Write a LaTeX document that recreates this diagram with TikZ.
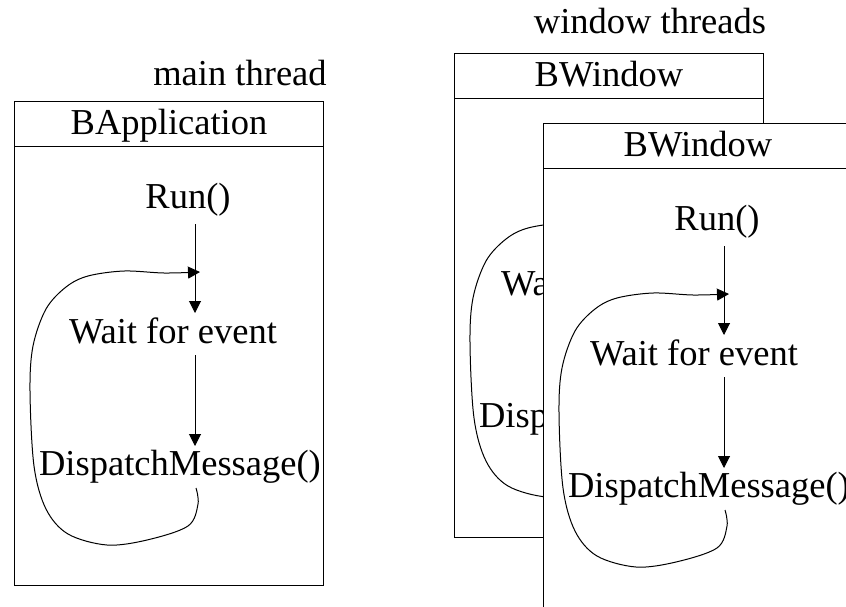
\documentclass[tikz,border=0pt]{standalone}
\usepackage{fontspec}
\setmainfont{Liberation Serif}
\usetikzlibrary{arrows.meta}

\tikzset{
  txt/.style={anchor=base, inner sep=0pt, font=\fontsize{36.5}{40}\selectfont},
  conn/.style={line width=1pt, -{Triangle[length=12pt,width=12pt]}},
  % one thread: a titled frame with the Run / Wait / Dispatch message loop
  pics/threadbox/.style 2 args={code={
    \node[draw, line width=1pt, fill=white, anchor=north west, inner sep=0pt,
          minimum width=309pt, minimum height=484pt] (-frame) at (0,0) {};
    \coordinate (-hl) at (0,45);
    \coordinate (-hr) at (309,45);
    \draw[line width=1pt] (-hl) -- (-hr);
    \node[txt] (-title) at (155,33) {#1};
    \node[txt] (-run) at (174,107) {Run()};
    \node[txt] (-wait) at (#2,242) {Wait for event};
    \node[txt] (-disp) at (166,374) {DispatchMessage()};
    \coordinate (-a1) at (181,123);
    \coordinate (-a2) at (181,212);
    \coordinate (-a3) at (181,254);
    \coordinate (-a4) at (181,345);
    \coordinate (-ls) at (182,387);
    \coordinate (-le) at (186,171);
    \draw[conn] (-a1) -- (-a2);
    \draw[conn] (-a3) -- (-a4);
    \draw[conn] plot[smooth, tension=0.55] coordinates {
      (-ls) (184,403) (174,425) (133,439) (93,444) (54,433) (32,408)
      (20,365) (16,290) (19,245) (32,208) (52,186) (74,175) (110,170)
      (150,172) (-le)};
  }}
}

\begin{document}
\begin{tikzpicture}[x=1pt, y=-1pt]
  \useasboundingbox (0,0) rectangle (846,606);
  \clip (0,0) rectangle (846,606);

  \node[txt] (mainlbl) at (240,85) {main thread};
  \node[txt] (winlbl) at (650,33) {window threads};

  \pic (app) at (14,101) {threadbox={BApplication}{159}};
  \pic (winback) at (454,53) {threadbox={BWindow}{151}};
  \pic (winfront) at (543,123) {threadbox={BWindow}{151}};
\end{tikzpicture}
\end{document}
